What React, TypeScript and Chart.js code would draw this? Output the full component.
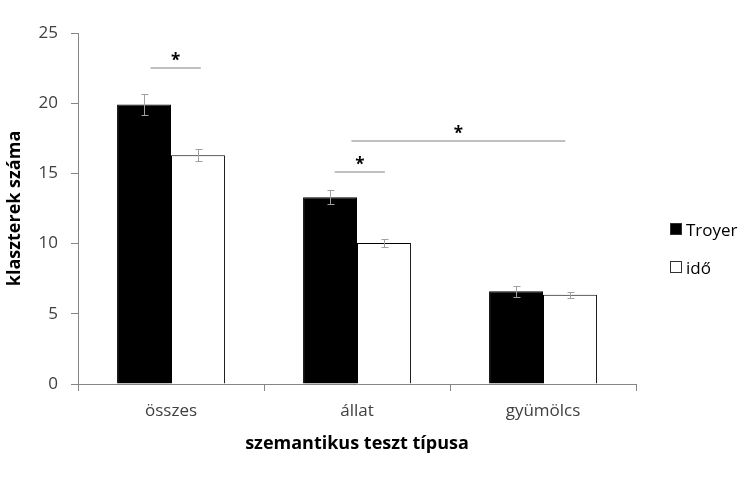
import React, { useEffect, useRef } from "react";
import { Chart, registerables } from "chart.js";

Chart.register(...registerables);

const categories = ["összes", "állat", "gyümölcs"];
const seriesNames = ["Troyer", "idő"];
const troyerValues = [19.9, 13.3, 6.6];
const idoValues = [16.3, 10.05, 6.35];
const troyerErr = [0.75, 0.5, 0.4];
const idoErr = [0.45, 0.3, 0.22];
const yTicks = [0, 5, 10, 15, 20, 25];
// significance brackets: from / to in category-index units, y level in data units
const sigFrom = [-0.11, 0.88, 0.97];
const sigTo = [0.16, 1.15, 2.12];
const sigLevel = [22.5, 15.1, 17.3];
const sigLabel = ["*", "*", "*"];

const FONT = "'Open Sans', 'Liberation Sans', sans-serif";

export default function App() {
  const ref = useRef<HTMLCanvasElement | null>(null);

  useEffect(() => {
    document.body.style.margin = "0";
    const errs = [troyerErr, idoErr];
    const errorBars = {
      id: "errorBars",
      afterDatasetsDraw(chart: any) {
        const ctx = chart.ctx;
        const y = chart.scales.y;
        ctx.save();
        ctx.strokeStyle = "#a0a0a0";
        ctx.lineWidth = 1;
        chart.data.datasets.forEach((ds: any, di: number) => {
          const meta = chart.getDatasetMeta(di);
          meta.data.forEach((bar: any, i: number) => {
            const v = ds.data[i];
            const e = errs[di][i];
            const x = Math.round(bar.x) + 0.5;
            const y1 = Math.round(y.getPixelForValue(v + e)) + 0.5;
            const y2 = Math.round(y.getPixelForValue(v - e)) + 0.5;
            ctx.beginPath();
            ctx.moveTo(x, y1);
            ctx.lineTo(x, y2);
            ctx.moveTo(x - 3, y1);
            ctx.lineTo(x + 4, y1);
            ctx.moveTo(x - 3, y2);
            ctx.lineTo(x + 4, y2);
            ctx.stroke();
          });
        });
        // significance lines
        const xs = chart.scales.x;
        ctx.strokeStyle = "#c0c0c0";
        ctx.lineWidth = 2;
        ctx.fillStyle = "#000";
        ctx.font = `bold 17px ${FONT}`;
        ctx.textAlign = "center";
        ctx.textBaseline = "middle";
        sigLevel.forEach((lv, k) => {
          const xa = xs.getPixelForValue(sigFrom[k]);
          const xb = xs.getPixelForValue(sigTo[k]);
          const py = Math.round(y.getPixelForValue(lv));
          ctx.beginPath();
          ctx.moveTo(xa, py);
          ctx.lineTo(xb, py);
          ctx.stroke();
          ctx.fillText(sigLabel[k], (xa + xb) / 2, py - 7);
        });
        ctx.restore();
      },
    };

    const chart = new Chart(ref.current as HTMLCanvasElement, {
      type: "bar",
      data: {
        labels: categories,
        datasets: [
          {
            label: seriesNames[0],
            data: troyerValues,
            backgroundColor: "#000000",
            borderColor: "#000000",
            borderWidth: 1,
            categoryPercentage: 0.58,
            barPercentage: 1,
          },
          {
            label: seriesNames[1],
            data: idoValues,
            backgroundColor: "#ffffff",
            borderColor: "#000000",
            borderWidth: 1,
            categoryPercentage: 0.58,
            barPercentage: 1,
          },
        ],
      },
      options: {
        responsive: false,
        animation: false,
        maintainAspectRatio: false,
        layout: { padding: { left: 0, right: 120, top: 33, bottom: 0 } },
        plugins: {
          legend: { display: false },
          tooltip: { enabled: false },
        },
        scales: {
          x: {
            afterFit(axis: any) {
              axis.height = 101;
            },
            grid: {
              display: true,
              drawOnChartArea: false,
              offset: true,
              color: "#868686",
              tickLength: 7,
            },
            border: { display: true, color: "#868686" },
            ticks: {
              color: "#404040",
              font: { family: FONT, size: 17 },
              padding: 10,
            },
            title: {
              display: true,
              text: "szemantikus teszt típusa",
              color: "#000",
              font: { family: FONT, size: 18, weight: "bold" },
              padding: { top: 4, bottom: 30 },
            },
          },
          y: {
            min: 0,
            max: 25,
            afterFit(axis: any) {
              axis.width = 78;
            },
            afterBuildTicks(axis: any) {
              axis.ticks = yTicks.map((v) => ({ value: v }));
            },
            grid: {
              display: true,
              drawOnChartArea: false,
              color: "#868686",
              tickLength: 7,
            },
            border: { display: true, color: "#868686" },
            ticks: {
              color: "#404040",
              font: { family: FONT, size: 17 },
              padding: 13,
            },
            title: {
              display: true,
              text: "klaszterek száma",
              color: "#000",
              font: { family: FONT, size: 18, weight: "bold" },
              padding: { top: 4, bottom: 4 },
            },
          },
        },
      },
      plugins: [errorBars],
    });
    return () => chart.destroy();
  }, []);

  const legendItem = (name: string, fill: string, centerY: number) => (
    <div
      style={{
        position: "absolute",
        left: 670,
        top: centerY - 12,
        height: 24,
        display: "flex",
        alignItems: "center",
        fontFamily: FONT,
        fontSize: 17,
        color: "#000",
        whiteSpace: "nowrap",
      }}
    >
      <span
        style={{
          display: "inline-block",
          width: 10,
          height: 10,
          background: fill,
          border: "1px solid #303030",
          marginRight: 4,
        }}
      />
      <span>{name}</span>
    </div>
  );

  return (
    <div style={{ position: "relative", width: 756, height: 485, background: "#fff" }}>
      <canvas ref={ref} width={756} height={485} />
      {legendItem(seriesNames[0], "#000", 229)}
      {legendItem(seriesNames[1], "#fff", 267)}
    </div>
  );
}
